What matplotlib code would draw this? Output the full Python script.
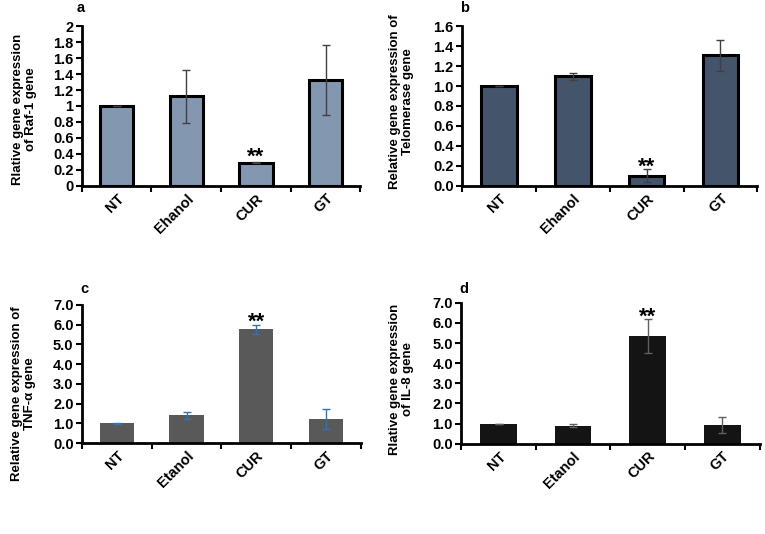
import matplotlib
matplotlib.use('Agg')
import matplotlib.pyplot as plt
import numpy as np

plt.rcParams['font.family'] = ['Liberation Sans', 'DejaVu Sans']
plt.rcParams['font.weight'] = 'bold'

# Values
groups_ab = ['NT', 'Ehanol', 'CUR', 'GT']
groups_cd = ['NT', 'Etanol', 'CUR', 'GT']

raf1 = [1.0, 1.12, 0.29, 1.33]
raf1_err = [0.0, 0.33, 0.01, 0.44]

telomerase = [1.0, 1.10, 0.10, 1.31]
telomerase_err = [0.0, 0.035, 0.065, 0.155]

tnf = [1.0, 1.42, 5.77, 1.22]
tnf_err = [0.02, 0.18, 0.22, 0.52]

il8 = [1.0, 0.90, 5.34, 0.93]
il8_err = [0.0, 0.08, 0.83, 0.40]


def bar_panel(ax, labels, values, errors, ymax, step, fmt, face, edge,
              err_color, star_y, ylabel, ylabel_x, ylabel_y, letter,
              letter_xy, fig):
    """Draw one Excel style bar panel with error bars and ** over CUR"""
    x = np.arange(len(labels))
    if edge:
        ax.bar(x, values, width=0.48, color=face, edgecolor='black',
               linewidth=2.2, zorder=2)
    else:
        ax.bar(x, values, width=0.49, color=face, zorder=2)
    ax.errorbar(x, values, yerr=errors, fmt='none', ecolor=err_color,
                elinewidth=1.0, capsize=3, capthick=1.0, zorder=3)
    # the asterisk glyph sits high in its box, so anchor at the baseline
    ax.text(2, star_y, '**', ha='center', va='baseline', fontsize=16,
            fontweight='bold')
    ax.set_xlim(-0.5, 3.5)
    ax.set_ylim(0, ymax)
    ticks = np.arange(0, ymax + step / 2, step)
    ax.set_yticks(ticks)
    ax.set_yticklabels([fmt.format(t) for t in ticks], fontsize=10.5,
                       fontweight='bold')
    # tick marks sit between the categories, names sit under the bars
    ax.set_xticks(np.arange(-0.5, 4, 1))
    ax.set_xticklabels([])
    ax.set_xticks(x, minor=True)
    ax.set_xticklabels(labels, minor=True, rotation=45, ha='right',
                       rotation_mode='anchor', fontsize=10.5,
                       fontweight='bold')
    ax.tick_params(axis='x', which='minor', length=0, pad=4)
    ax.tick_params(axis='x', which='major', length=4, width=1.5,
                   direction='out')
    ax.tick_params(axis='y', length=4, width=1.5, direction='out', pad=2)
    for side in ['top', 'right']:
        ax.spines[side].set_visible(False)
    for side in ['left', 'bottom']:
        ax.spines[side].set_linewidth(2)
    fig.text(ylabel_x, ylabel_y, ylabel, rotation=90, ha='center',
             va='center', multialignment='center', fontsize=9.5,
             fontweight='bold', linespacing=1.1)
    fig.text(letter_xy[0], letter_xy[1], letter, ha='left', va='center',
             fontsize=10.5, fontweight='bold')


fig = plt.figure(figsize=(7.65, 5.34), dpi=100)

ax_a = fig.add_axes([0.107, 0.652, 0.364, 0.299])
bar_panel(ax_a, groups_ab, raf1, raf1_err, 2.0, 0.2, '{:g}', '#8497b0',
          True, '#404040', 0.29, 'Rlative gene expression\nof Raf-1 gene',
          0.032, 0.795, 'a', (0.100, 0.985), fig)

ax_b = fig.add_axes([0.604, 0.652, 0.386, 0.299])
bar_panel(ax_b, groups_ab, telomerase, telomerase_err, 1.6, 0.2, '{:.1f}',
          '#44546a', True, '#404040', 0.13,
          'Relative gene expression of\nTelomerase gene',
          0.525, 0.81, 'b', (0.602, 0.985), fig)

ax_c = fig.add_axes([0.107, 0.170, 0.365, 0.259])
bar_panel(ax_c, groups_cd, tnf, tnf_err, 7.0, 1.0, '{:.1f}', '#595959',
          False, '#2e75b6', 5.85,
          'Relative gene expression of\nTNF-\u03b1 gene',
          0.031, 0.263, 'c', (0.105, 0.458), fig)

ax_d = fig.add_axes([0.603, 0.169, 0.390, 0.264])
bar_panel(ax_d, groups_cd, il8, il8_err, 7.0, 1.0, '{:.1f}', '#141414',
          False, '#606060', 6.0,
          'Rlative gene expression\nof IL-8 gene',
          0.525, 0.29, 'd', (0.601, 0.459), fig)

fig.savefig('out.png', dpi=100)
